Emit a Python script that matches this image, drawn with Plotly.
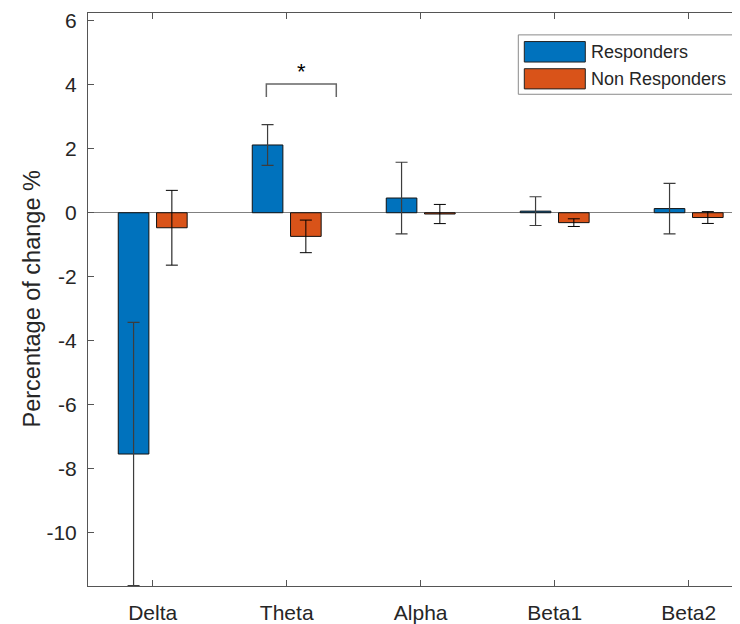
import plotly.graph_objects as go

# ---- data ----
bands = ["Delta", "Theta", "Alpha", "Beta1", "Beta2"]
band_pos = [1, 2, 3, 4, 5]
series_names = ["Responders", "Non Responders"]
responders_mean = [-7.55, 2.12, 0.46, 0.05, 0.13]
responders_err = [4.12, 0.64, 1.12, 0.45, 0.79]
nonresp_mean = [-0.47, -0.74, -0.04, -0.31, -0.15]
nonresp_err = [1.17, 0.51, 0.30, 0.12, 0.185]
y_tick_vals = [-10, -8, -6, -4, -2, 0, 2, 4, 6]
y_tick_text = ["-10", "-8", "-6", "-4", "-2", "0", "2", "4", "6"]
sig_x = [1.848, 2.370]
sig_y = 4.03
sig_drop = 0.41
sig_label = "*"

# ---- style ----
BLUE = "#0072BD"
ORANGE = "#D95319"
AX = "#555555"
TXT = "#262626"
FONT = "Liberation Sans, Arial, sans-serif"

OFF = 8  # page body margin
W, H = 740 - OFF, 624 - OFF
L, R, T, B = 88 - OFF, 0, 13 - OFF, 35
pw, ph = W - L - R, H - T - B

def px2paper_x(px):
    return (px - OFF - L) / pw

def px2paper_y(py):
    return (H - B - (py - OFF)) / ph

fig = go.Figure()
fig.add_trace(go.Bar(
    x=band_pos, y=responders_mean, name=series_names[0],
    marker=dict(color=BLUE, line=dict(color="#111111", width=1)),
    error_y=dict(type="data", array=responders_err, color="#3d3d3d",
                 thickness=1.2, width=6),
))
fig.add_trace(go.Bar(
    x=band_pos, y=nonresp_mean, name=series_names[1],
    marker=dict(color=ORANGE, line=dict(color="#111111", width=1)),
    error_y=dict(type="data", array=nonresp_err, color="#000000",
                 thickness=1, width=6),
))

# significance bracket
fig.add_shape(type="path",
              path=f"M {sig_x[0]},{sig_y - sig_drop} L {sig_x[0]},{sig_y} "
                   f"L {sig_x[1]},{sig_y} L {sig_x[1]},{sig_y - sig_drop}",
              xref="x", yref="y", line=dict(color="#666666", width=1.5))
fig.add_annotation(x=(sig_x[0] + sig_x[1]) / 2, y=sig_y - 0.06, xref="x", yref="y",
                   text=sig_label, showarrow=False, yanchor="bottom",
                   font=dict(family=FONT, size=22, color="#000000"))

# custom legend (MATLAB style, wide swatches)
fig.add_shape(type="rect", xref="paper", yref="paper",
              x0=px2paper_x(518.3), x1=px2paper_x(735.3),
              y0=px2paper_y(94.7), y1=px2paper_y(35),
              line=dict(color="#8a8a8a", width=1), fillcolor="white", layer="above")
rows = [(41.7, 62.3), (69.0, 89.3)]
for (ya, yb), name, col in zip(rows, series_names, [BLUE, ORANGE]):
    fig.add_shape(type="rect", xref="paper", yref="paper",
                  x0=px2paper_x(524.3), x1=px2paper_x(585.3),
                  y0=px2paper_y(yb), y1=px2paper_y(ya),
                  line=dict(color="#222222", width=1), fillcolor=col, layer="above")
    fig.add_annotation(xref="paper", yref="paper", x=px2paper_x(589),
                       y=px2paper_y((ya + yb) / 2), text=name, showarrow=False,
                       xanchor="left", yanchor="middle",
                       font=dict(family=FONT, size=18, color=TXT))

# y-axis title
fig.add_annotation(xref="paper", yref="paper", x=px2paper_x(31), y=0.5,
                   text="Percentage of change %", textangle=-90, showarrow=False,
                   xanchor="center", yanchor="middle",
                   font=dict(family=FONT, size=23.5, color=TXT))

fig.update_layout(
    width=W, height=H,
    margin=dict(l=L, r=R, t=T, b=B, pad=0),
    paper_bgcolor="white", plot_bgcolor="white",
    barmode="group", bargap=0.4286, bargroupgap=0.2,
    showlegend=False,
    font=dict(family=FONT, color=TXT),
)
fig.update_xaxes(
    range=[0.517, 5.383], tickvals=band_pos, ticktext=bands,
    showline=True, linecolor=AX, linewidth=1, mirror="allticks",
    ticks="inside", ticklen=6, tickcolor=AX, tickwidth=1,
    showgrid=False, zeroline=False,
    tickfont=dict(family=FONT, size=21, color=TXT),
    ticklabelstandoff=8,
)
fig.update_yaxes(
    range=[-11.68, 6.25], tickvals=y_tick_vals, ticktext=y_tick_text,
    showline=True, linecolor=AX, linewidth=1, mirror=False,
    ticks="inside", ticklen=6, tickcolor=AX, tickwidth=1,
    showgrid=False, zeroline=True, zerolinecolor="#808080", zerolinewidth=1,
    tickfont=dict(family=FONT, size=21, color=TXT),
    ticklabelstandoff=6,
)

fig.write_html("out.html")
